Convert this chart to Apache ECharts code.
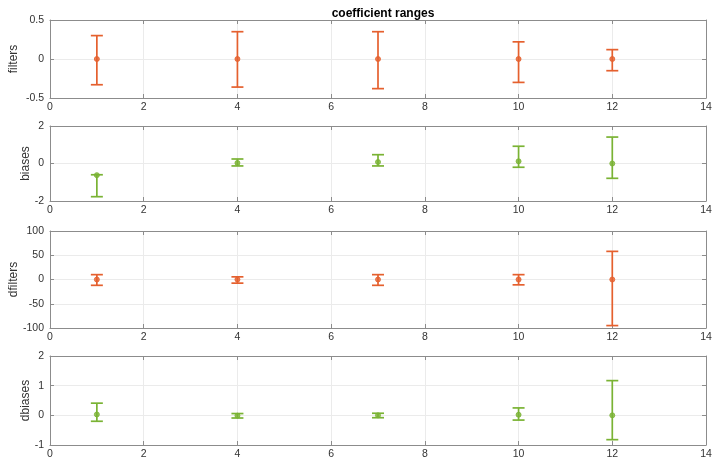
<!DOCTYPE html>
<html><head><meta charset="utf-8">
<script src="https://cdn.jsdelivr.net/npm/echarts@6/dist/echarts.min.js"></script>
<style>html,body{margin:0;padding:0;background:#fff}#c{width:714px;height:462px}</style>
</head><body><div id="c"></div>
<script>
const xPos = [1, 4, 7, 10, 12];
const xTicks = [0, 2, 4, 6, 8, 10, 12, 14];
const panelNames = ['filters', 'biases', 'dfilters', 'dbiases'];

const filtersMid  = [0, 0, 0, 0, 0];
const filtersLow  = [-0.33, -0.36, -0.38, -0.30, -0.15];
const filtersHigh = [0.30, 0.35, 0.35, 0.22, 0.12];

const biasesMid  = [-0.62, 0.03, 0.08, 0.12, 0.0];
const biasesLow  = [-1.77, -0.13, -0.13, -0.20, -0.79];
const biasesHigh = [-0.60, 0.24, 0.47, 0.92, 1.41];

const dfiltersMid  = [0, 0, 0, 0, 0];
const dfiltersLow  = [-12, -7.5, -12, -11, -95];
const dfiltersHigh = [10, 5.5, 10, 10, 58];

const dbiasesMid  = [0.03, -0.01, 0, 0.02, 0];
const dbiasesLow  = [-0.20, -0.09, -0.08, -0.16, -0.82];
const dbiasesHigh = [0.41, 0.06, 0.07, 0.25, 1.17];

const yTicks = [[-0.5, 0, 0.5], [-2, 0, 2], [-100, -50, 0, 50, 100], [-1, 0, 1, 2]];

const orange = '#E5602E', green = '#7AB334';
const panels = [
  {mid: filtersMid, low: filtersLow, high: filtersHigh, color: orange, gap: 30},
  {mid: biasesMid, low: biasesLow, high: biasesHigh, color: green, gap: 18},
  {mid: dfiltersMid, low: dfiltersLow, high: dfiltersHigh, color: orange, gap: 30},
  {mid: dbiasesMid, low: dbiasesLow, high: dbiasesHigh, color: green, gap: 18}
];
const gridTops = [20, 126, 231, 356];
const gridHeights = [78, 75, 97, 89];

const font = 'Liberation Sans, Arial, sans-serif';
const grids = [], xAxes = [], yAxes = [], series = [];
panels.forEach((p, i) => {
  grids.push({left: 50, right: 8, top: gridTops[i], height: gridHeights[i], show: false,
    containLabel: false, outerBoundsMode: 'none'});
  const yt = yTicks[i];
  const yInt = yt[1] - yt[0];
  const axLine = {show: true, onZero: false, lineStyle: {color: '#8c8c8c', width: 1}};
  const tick = {show: true, inside: true, length: 4, lineStyle: {color: '#8c8c8c'}};
  xAxes.push({type: 'value', gridIndex: i, position: 'bottom', min: xTicks[0], max: xTicks[xTicks.length-1], interval: 2,
    axisLine: axLine, axisTick: tick,
    axisLabel: {color: '#333', fontSize: 10.5, fontFamily: font, margin: 4},
    splitLine: {show: true, lineStyle: {color: '#ebebeb'}}});
  xAxes.push({type: 'value', gridIndex: i, position: 'top', min: xTicks[0], max: xTicks[xTicks.length-1], interval: 2,
    axisLine: axLine, axisTick: tick,
    axisLabel: {show: false}, splitLine: {show: false}});
  yAxes.push({type: 'value', gridIndex: i, position: 'left', min: yt[0], max: yt[yt.length-1], interval: yInt,
    name: panelNames[i], nameLocation: 'middle', nameGap: p.gap, nameMoveOverlap: false,
    nameTextStyle: {color: '#333', fontSize: 12, fontFamily: font},
    axisLine: axLine, axisTick: tick,
    axisLabel: {color: '#333', fontSize: 10.5, fontFamily: font, margin: 6},
    splitLine: {show: true, lineStyle: {color: '#ebebeb'}}});
  yAxes.push({type: 'value', gridIndex: i, position: 'right', min: yt[0], max: yt[yt.length-1], interval: yInt,
    axisLine: axLine, axisTick: tick,
    axisLabel: {show: false}, splitLine: {show: false}});
  const errData = xPos.map((x, k) => [x, p.low[k], p.high[k]]);
  series.push({type: 'custom', xAxisIndex: 2*i, yAxisIndex: 2*i, data: errData, z: 3,
    renderItem: function (params, api) {
      const x = api.value(0);
      const lo = api.coord([x, api.value(1)]);
      const hi = api.coord([x, api.value(2)]);
      const hw = 6;
      const st = {stroke: p.color, lineWidth: 1.7, fill: null};
      return {type: 'group', children: [
        {type: 'line', shape: {x1: lo[0], y1: lo[1], x2: hi[0], y2: hi[1]}, style: st},
        {type: 'line', shape: {x1: lo[0]-hw, y1: lo[1], x2: lo[0]+hw, y2: lo[1]}, style: st},
        {type: 'line', shape: {x1: hi[0]-hw, y1: hi[1], x2: hi[0]+hw, y2: hi[1]}, style: st}
      ]};
    }});
  series.push({type: 'scatter', xAxisIndex: 2*i, yAxisIndex: 2*i, z: 4,
    data: xPos.map((x, k) => [x, p.mid[k]]), symbol: 'circle', symbolSize: 5,
    itemStyle: {color: p.color, borderColor: p.color, borderWidth: 1}});
});

const chart = echarts.init(document.getElementById('c'), null, {renderer: 'canvas'});
chart.setOption({
  animation: false,
  title: {text: 'coefficient ranges', left: 378, top: 3, textAlign: 'center',
    textStyle: {fontSize: 12, fontWeight: 'bold', color: '#000', fontFamily: font}},
  grid: grids, xAxis: xAxes, yAxis: yAxes, series: series
});
</script></body></html>
